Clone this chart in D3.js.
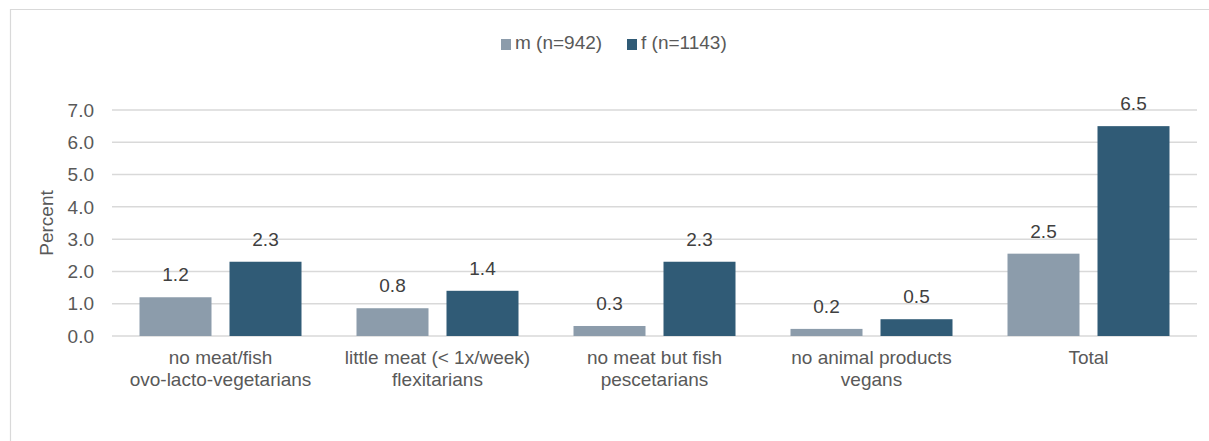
<!DOCTYPE html>
<html>
<head>
<meta charset="utf-8">
<script src="https://cdn.jsdelivr.net/npm/d3@7"></script>
<style>
  body { margin: 0; background: #fff; overflow: hidden; }
  svg { display: block; font-family: "Liberation Sans", Arial, sans-serif; }
</style>
</head>
<body>
<div id="chart"></div>
<script>
// data
const categories = [
  ["no meat/fish", "ovo-lacto-vegetarians"],
  ["little meat (< 1x/week)", "flexitarians"],
  ["no meat but fish", "pescetarians"],
  ["no animal products", "vegans"],
  ["Total"]
];
const seriesNames = ["m (n=942)", "f (n=1143)"];
const mValues = [1.2, 0.86, 0.31, 0.22, 2.55];
const fValues = [2.3, 1.4, 2.3, 0.52, 6.5];
const mLabels = ["1.2", "0.8", "0.3", "0.2", "2.5"];
const fLabels = ["2.3", "1.4", "2.3", "0.5", "6.5"];
const yTicks = [0, 1, 2, 3, 4, 5, 6, 7];
const colors = ["#8c9cab", "#305b76"];

const width = 1209, height = 441;
const plot = { left: 112, right: 1197, top: 110, bottom: 336 };
const valueColor = "#404040";
const axisColor = "#595959";
const fontSize = "19px";

const svg = d3.select("#chart").append("svg")
  .attr("width", width)
  .attr("height", height);

// outer frame: only left and top edges are visible in the screenshot
svg.append("path")
  .attr("d", `M10.5,${height} V9.5 H${width}`)
  .attr("fill", "none")
  .attr("stroke", "#d9d9d9")
  .attr("stroke-width", 1.2);

const y = d3.scaleLinear().domain([0, 7]).range([plot.bottom, plot.top]);
const x0 = d3.scaleBand()
  .domain(d3.range(categories.length))
  .range([plot.left, plot.right]);
const barW = 72, barGap = 18;
const cx = i => x0(i) + x0.bandwidth() / 2;

// grid lines
svg.append("g").selectAll("line")
  .data(yTicks)
  .enter().append("line")
  .attr("x1", plot.left).attr("x2", plot.right)
  .attr("y1", d => y(d)).attr("y2", d => y(d))
  .attr("stroke", "#d9d9d9")
  .attr("stroke-width", 1.5);

// y tick labels
svg.append("g").selectAll("text")
  .data(yTicks)
  .enter().append("text")
  .attr("x", plot.left - 18)
  .attr("y", d => y(d))
  .attr("dy", "0.35em")
  .attr("text-anchor", "end")
  .attr("fill", axisColor)
  .style("font-size", fontSize)
  .text(d3.format(".1f"));

svg.append("text")
  .attr("transform", `translate(53,${(plot.top + plot.bottom) / 2}) rotate(-90)`)
  .attr("text-anchor", "middle")
  .attr("fill", axisColor)
  .style("font-size", fontSize)
  .text("Percent");

// bars + value labels
const series = [mValues, fValues];
const labels = [mLabels, fLabels];
series.forEach((vals, si) => {
  const offset = si === 0 ? -(barW + barGap / 2) : barGap / 2;
  const g = svg.append("g");
  g.selectAll("rect")
    .data(vals)
    .enter().append("rect")
    .attr("x", (d, i) => cx(i) + offset)
    .attr("y", d => y(d))
    .attr("width", barW)
    .attr("height", d => y(0) - y(d))
    .attr("fill", colors[si]);
  g.selectAll("text")
    .data(vals)
    .enter().append("text")
    .attr("x", (d, i) => cx(i) + offset + barW / 2)
    .attr("y", d => y(d) - 16)
    .attr("text-anchor", "middle")
    .attr("fill", valueColor)
    .style("font-size", fontSize)
    .text((d, i) => labels[si][i]);
});

// category labels
categories.forEach((lines, i) => {
  const t = svg.append("text")
    .attr("x", cx(i))
    .attr("y", plot.bottom + 28)
    .attr("text-anchor", "middle")
    .attr("fill", axisColor)
    .style("font-size", fontSize);
  lines.forEach((ln, k) => {
    t.append("tspan")
      .attr("x", cx(i))
      .attr("dy", k === 0 ? 0 : 22)
      .text(ln);
  });
});

// legend
const legendX = [501, 627];
seriesNames.forEach((name, i) => {
  svg.append("rect")
    .attr("x", legendX[i]).attr("y", 39)
    .attr("width", 10).attr("height", 11)
    .attr("fill", colors[i]);
  svg.append("text")
    .attr("x", legendX[i] + 14)
    .attr("y", 49)
    .attr("fill", axisColor)
    .style("font-size", fontSize)
    .text(name);
});
</script>
</body>
</html>
